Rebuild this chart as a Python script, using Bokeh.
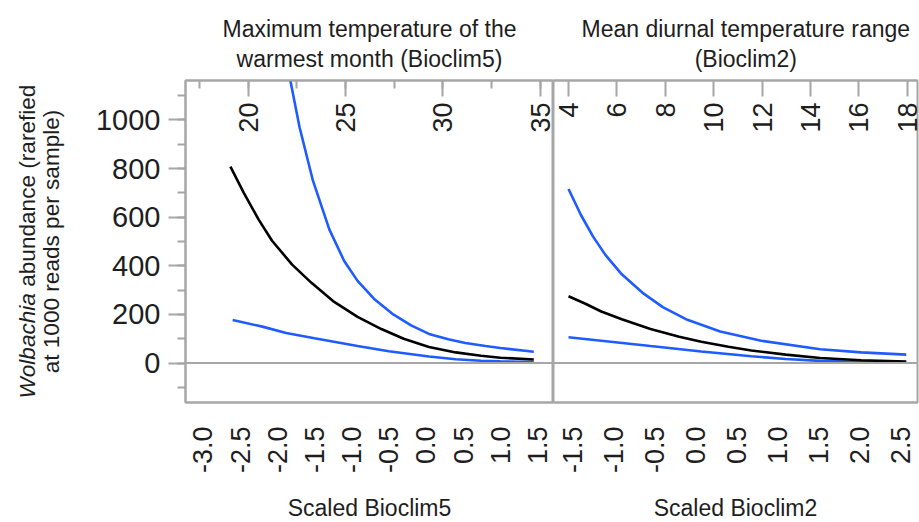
import math
from bokeh.plotting import figure
from bokeh.models import (Range1d, LinearAxis, SingleIntervalTicker, PrintfTickFormatter,
                          Span, LabelSet, ColumnDataSource, Title)
from bokeh.layouts import row
from bokeh.core.properties import value
from bokeh.embed import file_html
from bokeh.resources import INLINE

# ---------------- data ----------------
# Left panel: Scaled Bioclim5
b5_mean_x = [-2.63, -2.45, -2.25, -2.07, -1.80, -1.54, -1.25, -0.92, -0.60, -0.30, 0.04, 0.40, 0.74, 1.00, 1.45]
b5_mean_y = [808, 700, 590, 503, 405, 330, 255, 190, 140, 100, 66, 44, 30, 22, 15]
b5_upper_x = [-1.90, -1.70, -1.52, -1.30, -1.10, -0.92, -0.70, -0.44, -0.20, 0.04, 0.30, 0.53, 0.80, 1.00, 1.45]
b5_upper_y = [1280, 970, 750, 550, 420, 338, 265, 200, 155, 120, 98, 83, 70, 62, 47]
b5_lower_x = [-2.60, -2.20, -1.88, -1.50, -1.20, -0.92, -0.50, 0.04, 0.40, 0.74, 1.00, 1.45]
b5_lower_y = [177, 150, 124, 102, 86, 70, 49, 27, 16, 9.5, 7, 4]

# Right panel: Scaled Bioclim2
b2_mean_x = [-1.55, -1.35, -1.15, -0.90, -0.55, -0.20, 0.07, 0.40, 0.68, 1.10, 1.52, 2.02, 2.57]
b2_mean_y = [275, 245, 212, 180, 140, 108, 88, 67, 52, 35, 21, 12, 6]
b2_upper_x = [-1.55, -1.40, -1.25, -1.10, -0.90, -0.65, -0.40, -0.10, 0.30, 0.80, 1.52, 2.02, 2.57]
b2_upper_y = [716, 610, 520, 445, 365, 290, 230, 178, 130, 92, 57, 44, 35]
b2_lower_x = [-1.55, -1.15, -0.55, 0.07, 0.68, 1.10, 1.52, 2.02, 2.57]
b2_lower_y = [106, 92, 70, 48, 28, 17, 9, 4, 1.5]

# Top (original-unit) axes tick labels
b5_top_ticks = [20, 25, 30, 35]
b5_top_labels = ["20", "25", "30", "35"]
b2_top_ticks = [4, 6, 8, 10, 12, 14, 16, 18]
b2_top_labels = ["4", "6", "8", "10", "12", "14", "16", "18"]

titles_b5 = ["Maximum temperature of the", "warmest month (Bioclim5)"]
titles_b2 = ["Mean diurnal temperature range", "(Bioclim2)"]
x_titles = ["Scaled Bioclim5", "Scaled Bioclim2"]
y_title_italic = "Wolbachia"
y_title_rest1 = "abundance (rarefied"
y_title_line2 = "at 1000 reads per sample)"

# ---------------- style ----------------
FONT = "Liberation Sans"
GRAY = "#a6a6a6"
TXT = "#1e1e1e"
BLUE = "#1f5cff"
BLACK = "#000000"
H_TOTAL = 522
FRAME_H = 322
TOP_B = 80
BOT_B = H_TOTAL - TOP_B - FRAME_H
LW = 2.6
T_SIZE = "23px"
Y_T_SIZE = 22.6
TICK_SIZE = "27px"


def add_title(p, lines, align, offset):
    t = Title(text="\n".join(lines), align=align, offset=offset, text_font=FONT, text_font_size=T_SIZE,
              text_font_style="normal", text_color=TXT, standoff=17, text_line_height=1.17)
    if "text_align" in t.properties():
        t.text_align = "center"
    p.add_layout(t, "above")


def style_common(p, xlabel, top_range, top_interval, top_minor, top_ticks, top_labels):
    p.grid.visible = False
    p.outline_line_color = GRAY
    p.outline_line_width = 2
    p.background_fill_color = "white"
    p.border_fill_color = "white"

    xb = p.below[0]
    xb.ticker = SingleIntervalTicker(interval=0.5, num_minor_ticks=0)
    xb.formatter = PrintfTickFormatter(format="%.1f")
    xb.major_label_orientation = math.pi / 2
    xb.major_tick_in = 0
    xb.major_tick_out = 0
    xb.minor_tick_in = 0
    xb.minor_tick_out = 0
    xb.axis_line_color = GRAY
    xb.axis_line_width = 2
    xb.major_label_standoff = 24
    xb.major_label_text_font = FONT
    xb.major_label_text_font_size = TICK_SIZE
    xb.major_label_text_color = TXT
    xb.axis_label = xlabel
    xb.axis_label_standoff = 19
    xb.axis_label_text_font = FONT
    xb.axis_label_text_font_size = T_SIZE
    xb.axis_label_text_font_style = "normal"
    xb.axis_label_text_color = TXT

    p.extra_x_ranges = {"top": top_range}
    ax_top = LinearAxis(x_range_name="top",
                        ticker=SingleIntervalTicker(interval=top_interval, num_minor_ticks=top_minor),
                        major_tick_in=16, major_tick_out=0, minor_tick_in=8, minor_tick_out=0,
                        axis_line_color=GRAY, axis_line_width=2,
                        major_tick_line_color=GRAY, major_tick_line_width=2,
                        minor_tick_line_color=GRAY if top_minor else None, minor_tick_line_width=2,
                        major_label_text_font_size="0px", major_label_text_color=None,
                        major_label_standoff=0)
    p.add_layout(ax_top, "above")

    src = ColumnDataSource(dict(x=top_ticks, text=top_labels))
    p.add_layout(LabelSet(x="x", y=300, y_units="screen", text="text", x_range_name="top",
                          source=src, angle=math.pi / 2, text_align="right", text_baseline="middle",
                          text_font=value(FONT), text_font_size=value(TICK_SIZE), text_color=TXT))

    p.add_layout(Span(location=0, dimension="width", line_color=GRAY, line_width=2))


# ---------------- y-axis title strip (frame aligned with the panels) ----------------
W0 = 80
p0 = figure(frame_width=W0, frame_height=FRAME_H, title=None,
            x_range=Range1d(0, W0), y_range=Range1d(0, FRAME_H),
            output_backend="svg", toolbar_location=None,
            min_border_left=0, min_border_right=0, min_border_top=TOP_B, min_border_bottom=BOT_B,
            x_axis_location=None, y_axis_location=None)
p0.grid.visible = False
p0.outline_line_color = None
p0.background_fill_color = "white"
p0.border_fill_color = "white"
yc = FRAME_H / 2
em = Y_T_SIZE
line1_len = 13.9 * em
line1_start = yc - line1_len / 2
p0.text(x=[27], y=[line1_start], text=[y_title_italic], angle=math.pi / 2,
        text_align="left", text_baseline="middle", text_font=value(FONT),
        text_font_style="italic", text_font_size=f"{Y_T_SIZE}px", text_color=TXT)
p0.text(x=[27], y=[line1_start + 4.946 * em], text=[y_title_rest1], angle=math.pi / 2,
        text_align="left", text_baseline="middle", text_font=value(FONT),
        text_font_style="normal", text_font_size=f"{Y_T_SIZE}px", text_color=TXT)
p0.text(x=[51], y=[yc], text=[y_title_line2], angle=math.pi / 2,
        text_align="center", text_baseline="middle", text_font=value(FONT),
        text_font_style="normal", text_font_size=f"{Y_T_SIZE}px", text_color=TXT)

# ---------------- left panel ----------------
p1 = figure(frame_width=368, frame_height=FRAME_H, title=None,
            x_range=Range1d(-3.234, 1.715), y_range=Range1d(-162, 1162),
            output_backend="svg", toolbar_location=None,
            min_border_left=185 - W0, min_border_right=0, min_border_top=TOP_B, min_border_bottom=BOT_B,
            x_axis_location="below", y_axis_location="left")
style_common(p1, x_titles[0], Range1d(16.78, 35.69), 5, 2, b5_top_ticks, b5_top_labels)
add_title(p1, titles_b5, "center", 0)

ya = p1.left[0]
ya.ticker = SingleIntervalTicker(interval=200, num_minor_ticks=2)
ya.major_tick_out = 17
ya.major_tick_in = 0
ya.minor_tick_out = 8
ya.minor_tick_in = 0
ya.axis_line_color = GRAY
ya.axis_line_width = 2
ya.major_tick_line_color = GRAY
ya.major_tick_line_width = 2
ya.minor_tick_line_color = GRAY
ya.minor_tick_line_width = 2
ya.major_label_standoff = 8
ya.major_label_text_font = FONT
ya.major_label_text_font_size = "29px"
ya.major_label_text_color = TXT

p1.line(b5_lower_x, b5_lower_y, line_color=BLUE, line_width=LW)
p1.line(b5_upper_x, b5_upper_y, line_color=BLUE, line_width=LW)
p1.line(b5_mean_x, b5_mean_y, line_color=BLACK, line_width=LW)

# ---------------- right panel ----------------
p2 = figure(frame_width=364, frame_height=FRAME_H, title=None,
            x_range=Range1d(-1.733, 2.707), y_range=Range1d(-162, 1162),
            output_backend="svg", toolbar_location=None,
            min_border_left=0, min_border_right=2, min_border_top=TOP_B, min_border_bottom=BOT_B,
            x_axis_location="below", y_axis_location=None)
style_common(p2, x_titles[1], Range1d(3.397, 18.415), 2, 0, b2_top_ticks, b2_top_labels)
add_title(p2, titles_b2, "left", 28)

p2.line(b2_lower_x, b2_lower_y, line_color=BLUE, line_width=LW)
p2.line(b2_upper_x, b2_upper_y, line_color=BLUE, line_width=LW)
p2.line(b2_mean_x, b2_mean_y, line_color=BLACK, line_width=LW)

layout = row(p0, p1, p2)
open("out.html", "w").write(file_html(layout, INLINE))
